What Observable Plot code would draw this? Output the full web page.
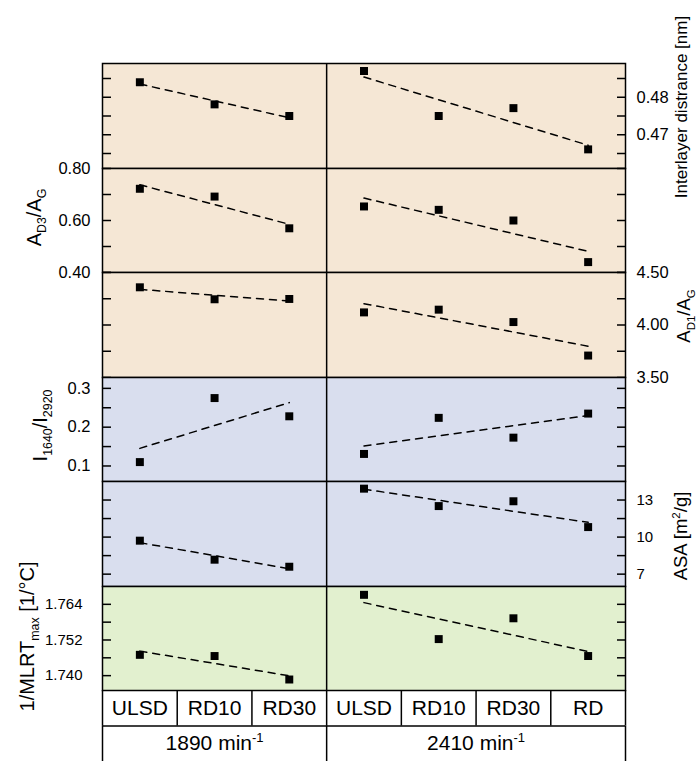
<!DOCTYPE html>
<html><head><meta charset="utf-8">
<script src="https://cdn.jsdelivr.net/npm/d3@7"></script>
<script src="https://cdn.jsdelivr.net/npm/@observablehq/plot@0.6"></script>
<style>
html,body{margin:0;padding:0;background:#fff;}
#chart{position:relative;width:698px;height:761px;overflow:hidden;background:#fff;}
#chart svg{position:absolute;left:0;overflow:visible;}
</style></head><body><div id="chart"></div>
<script>
// ---------- data ----------
const speeds = ["1890 min^{-1}", "2410 min^{-1}"];
const categoriesLow = ["ULSD", "RD10", "RD30"];
const categoriesHigh = ["ULSD", "RD10", "RD30", "RD"];

const rowTitles = ["Interlayer distrance [nm]", "A_{D3}/A_{G}", "A_{D1}/A_{G}", "I_{1640}/I_{2920}", "ASA [m^{2}/g]", "1/MLRT_{max} [1/°C]"];

const interlayerLow  = [0.4840, 0.4781, 0.4750];
const interlayerHigh = [0.4870, 0.4750, 0.4771, 0.4661];
const interlayerTicks = [0.465, 0.470, 0.475, 0.480, 0.485];
const interlayerLabels = [0.47, 0.48];

const ad3Low  = [0.722, 0.692, 0.570];
const ad3High = [0.654, 0.641, 0.600, 0.440];
const ad3Ticks = [0.4, 0.5, 0.6, 0.7, 0.8];
const ad3Labels = [0.4, 0.6, 0.8];

const ad1Low  = [4.359, 4.245, 4.248];
const ad1High = [4.120, 4.146, 4.028, 3.709];
const ad1Ticks = [3.5, 3.75, 4.0, 4.25, 4.5];
const ad1Labels = [3.5, 4.0, 4.5];

const ratioLow  = [0.110, 0.275, 0.228];
const ratioHigh = [0.131, 0.224, 0.173, 0.235];
const ratioTicks = [0.1, 0.15, 0.2, 0.25, 0.3];
const ratioLabels = [0.1, 0.2, 0.3];

const asaLow  = [9.71, 8.17, 7.60];
const asaHigh = [13.92, 12.51, 12.90, 10.81];
const asaTicks = [7, 8.5, 10, 11.5, 13];
const asaLabels = [7, 10, 13];

const mlrtLow  = [1.7470, 1.7466, 1.7387];
const mlrtHigh = [1.7672, 1.7523, 1.7593, 1.7466];
const mlrtTicks = [1.740, 1.746, 1.752, 1.758, 1.764];
const mlrtLabels = [1.740, 1.752, 1.764];

// ---------- layout / style ----------
const W = 698, ML = 102, MR = 73, PAD = 40;
const rowEdges = [63, 168, 272, 377, 481, 586, 690];
const tableBottom = 761;
const FONT = "'Liberation Sans', Arial, Helvetica, sans-serif";
const TAN = "#f5e7d5", BLUE = "#d9deee", GREEN = "#e2f0cf";

const rows = [
  {low: interlayerLow, high: interlayerHigh, domain: [0.461, 0.489], ticks: interlayerTicks, labels: interlayerLabels, fmt: ".2f", side: "right", fill: TAN, titleSize: 17, tdx: 56, tdy: -9, labelSize: 16.5, pad: 11},
  {low: ad3Low, high: ad3High, domain: [0.4, 0.8], ticks: ad3Ticks, labels: ad3Labels, fmt: ".2f", side: "left", fill: TAN, titleSize: 20, tdx: -68, tdy: -3, labelSize: 16.5, pad: 12},
  {low: ad1Low, high: ad1High, domain: [3.5, 4.5], ticks: ad1Ticks, labels: ad1Labels, fmt: ".2f", side: "right", fill: TAN, titleSize: 18.5, tdx: 59, tdy: -9, labelSize: 16.5, pad: 11},
  {low: ratioLow, high: ratioHigh, domain: [0.06, 0.328], ticks: ratioTicks, labels: ratioLabels, fmt: ".1f", side: "left", fill: BLUE, titleSize: 20, tdx: -62, tdy: -4, labelSize: 16.5, pad: 12},
  {low: asaLow, high: asaHigh, domain: [6.0, 14.5], ticks: asaTicks, labels: asaLabels, fmt: "d", side: "right", fill: BLUE, titleSize: 18.5, tdx: 56, tdy: 2, labelSize: 15, pad: 11},
  {low: mlrtLow, high: mlrtHigh, domain: [1.735, 1.770], ticks: mlrtTicks, labels: mlrtLabels, fmt: ".3f", side: "left", fill: GREEN, titleSize: 20, tdx: -75, tdy: -2, labelSize: 15, pad: 20}
];
rows.forEach((r, i) => r.title = rowTitles[i]);

const nLow = categoriesLow.length;
const nAll = nLow + categoriesHigh.length;
const container = document.getElementById("chart");

function richText(svg) {
  d3.select(svg).selectAll("text").each(function () {
    const t = this.textContent;
    if (!/[_^]\{/.test(t)) return;
    const fs = parseFloat(getComputedStyle(this).fontSize) || 16;
    const parts = [];
    const re = /([_^])\{([^}]*)\}/g;
    let last = 0, m;
    while ((m = re.exec(t))) {
      if (m.index > last) parts.push({s: t.slice(last, m.index), k: 0});
      parts.push({s: m[2], k: m[1] === "_" ? 1 : -1});
      last = re.lastIndex;
    }
    if (last < t.length) parts.push({s: t.slice(last), k: 0});
    while (this.firstChild) this.removeChild(this.firstChild);
    let off = 0;
    for (const p of parts) {
      const target = p.k === 1 ? 0.25 * fs : p.k === -1 ? -0.42 * fs : 0;
      const ts = d3.select(this).append("tspan").text(p.s);
      if (target !== off) ts.attr("dy", target - off);
      if (p.k !== 0) ts.attr("font-size", 0.62 * fs);
      off = target;
    }
  });
}

rows.forEach((row, i) => {
  const top = rowEdges[i], h = rowEdges[i + 1] - rowEdges[i];
  const data = [
    ...row.low.map((v, j) => ({pos: j + 0.5, value: v, speed: speeds[0], cat: categoriesLow[j]})),
    ...row.high.map((v, j) => ({pos: nLow + j + 0.5, value: v, speed: speeds[1], cat: categoriesHigh[j]}))
  ];
  const svg = Plot.plot({
    width: W, height: h + 2 * PAD,
    marginLeft: ML, marginRight: MR, marginTop: PAD, marginBottom: PAD,
    style: {background: "transparent", overflow: "visible", fontFamily: FONT, color: "black"},
    x: {domain: [0, nAll], axis: null},
    y: {domain: row.domain},
    marks: [
      Plot.frame({fill: row.fill, stroke: "none"}),
      Plot.ruleX([nLow], {stroke: "black", strokeWidth: 1.5}),
      Plot.axisY({anchor: "left", ticks: row.ticks, tickSize: -9, tickFormat: () => "", strokeWidth: 1.5, label: null}),
      Plot.axisY({anchor: "right", ticks: row.ticks, tickSize: -9, tickFormat: () => "", strokeWidth: 1.5, label: null}),
      Plot.axisY({anchor: row.side, ticks: row.labels, tickSize: 0, tickPadding: row.pad, tickFormat: d3.format(row.fmt), fontSize: row.labelSize, label: null}),
      Plot.linearRegressionY(data, {x: "pos", y: "value", z: "speed", ci: 0, stroke: "black", strokeWidth: 1.5, strokeDasharray: "7,6"}),
      Plot.dot(data, {x: "pos", y: "value", symbol: "square", r: 4.5, fill: "black", stroke: "none"}),
      Plot.frame({stroke: "black", strokeWidth: 1.5}),
      Plot.text([row.title], {frameAnchor: row.side, textAnchor: "middle", lineAnchor: "middle", text: d => d, rotate: -90, dx: row.tdx, dy: row.tdy, fontSize: row.titleSize})
    ]
  });
  svg.style.top = (top - PAD) + "px";
  container.appendChild(svg);
  richText(svg);
});

// ---------- category table ----------
const catAll = [...categoriesLow, ...categoriesHigh];
const catData = catAll.map((c, j) => ({pos: j + 0.5, label: c}));
const groupData = [
  {pos: nLow / 2, label: speeds[0]},
  {pos: nLow + categoriesHigh.length / 2, label: speeds[1]}
];
const tableTop = rowEdges[rowEdges.length - 1];
const table = Plot.plot({
  width: W, height: tableBottom - tableTop,
  marginLeft: ML, marginRight: MR, marginTop: 0, marginBottom: 0,
  style: {background: "transparent", overflow: "visible", fontFamily: FONT, color: "black"},
  x: {domain: [0, nAll], axis: null},
  y: {domain: [0, 2], reverse: true, axis: null},
  marks: [
    Plot.ruleX(d3.range(nAll + 1), {y1: 0, y2: 1, stroke: "black", strokeWidth: 1.5}),
    Plot.ruleX([0, nLow, nAll], {y1: 1, y2: 2, stroke: "black", strokeWidth: 1.5}),
    Plot.ruleY([1], {x1: 0, x2: nAll, stroke: "black", strokeWidth: 1.5}),
    Plot.text(catData, {x: "pos", y: 0.5, text: "label", fontSize: 21}),
    Plot.text(groupData, {x: "pos", y: 1.5, text: "label", fontSize: 21})
  ]
});
table.style.top = tableTop + "px";
container.appendChild(table);
richText(table);
</script></body></html>
